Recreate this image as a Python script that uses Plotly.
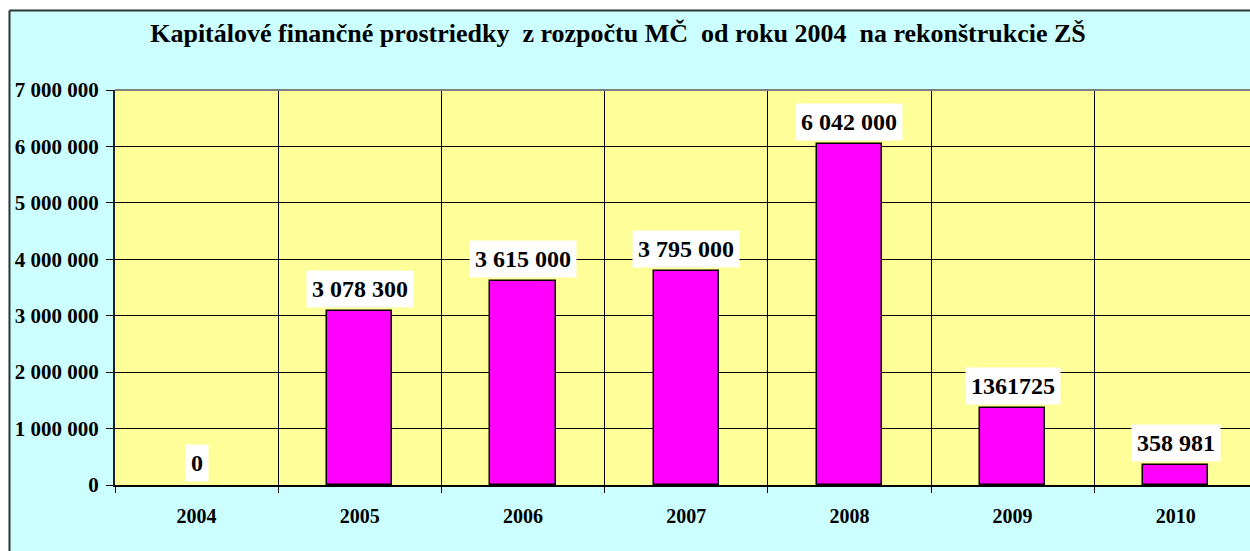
import plotly.graph_objects as go

# Capital funds from the district budget for school reconstructions
years = ["2004", "2005", "2006", "2007", "2008", "2009", "2010"]
amounts = [0, 3078300, 3615000, 3795000, 6042000, 1361725, 358981]
amount_labels = ["0", "3 078 300", "3 615 000", "3 795 000", "6 042 000", "1361725", "358 981"]
y_tick_values = [0, 1000000, 2000000, 3000000, 4000000, 5000000, 6000000, 7000000]
y_tick_labels = ["0", "1 000 000", "2 000 000", "3 000 000", "4 000 000",
                 "5 000 000", "6 000 000", "7 000 000"]
title_text = "Kapitálové finančné prostriedky  z rozpočtu MČ  od roku 2004  na rekonštrukcie ZŠ"

W, H = 1250, 551
PLOT_LEFT, PLOT_TOP, PLOT_BOTTOM = 115, 90, 485
CAT_W = 163.2
FONT = "Liberation Serif"

fig = go.Figure()
fig.add_trace(go.Bar(
    x=years,
    y=amounts,
    width=0.4,
    marker=dict(color="#FF00FF",
                line=dict(color="#000000",
                          width=[0 if v == 0 else 1.5 for v in amounts])),
    hoverinfo="skip",
))

# value labels in white boxes above each bar (category index as x position)
for i, (v, lab) in enumerate(zip(amounts, amount_labels)):
    fig.add_annotation(
        x=i, y=v, text=f"<b>{lab}</b>", showarrow=False,
        xref="x", yref="y", yanchor="bottom", yshift=3,
        font=dict(family=FONT, size=24, color="#000000"),
        bgcolor="#FFFFFF", borderpad=5,
    )

x_end = -0.5 + (W - PLOT_LEFT) / CAT_W

fig.update_layout(
    width=W, height=H,
    margin=dict(l=0, r=0, t=0, b=0),
    paper_bgcolor="#CCFFFF",
    plot_bgcolor="#FFFF99",
    showlegend=False,
    bargap=0,
    font=dict(family=FONT),
    title=dict(
        text=f"<b>{title_text}</b>",
        x=618 / W, xanchor="center",
        y=1 - 33 / H, yanchor="middle",
        font=dict(family=FONT, size=26, color="#000000"),
    ),
    xaxis=dict(
        type="category",
        domain=[PLOT_LEFT / W, 1.0],
        range=[-0.5, x_end],
        tickmode="array",
        tickvals=years,
        ticktext=[f"<b>{y}</b>" for y in years],
        tickson="boundaries",
        ticks="outside", ticklen=6, tickcolor="#000000", tickwidth=1,
        showgrid=True, gridcolor="#000000", gridwidth=1,
        showline=True, linecolor="#000000", linewidth=1.5,
        tickfont=dict(family=FONT, size=20, color="#000000"),
        ticklabelstandoff=12,
        automargin=False,
        fixedrange=True,
        zeroline=False,
    ),
    yaxis=dict(
        domain=[(H - PLOT_BOTTOM) / H, (H - PLOT_TOP) / H],
        range=[0, 7000000],
        tickmode="array",
        tickvals=y_tick_values,
        ticktext=[f"<b>{t}</b>" for t in y_tick_labels],
        ticks="outside", ticklen=7, tickcolor="#000000", tickwidth=1,
        showgrid=True, gridcolor="#000000", gridwidth=1,
        showline=True, linecolor="#222222", linewidth=2,
        tickfont=dict(family=FONT, size=21, color="#000000"),
        ticklabelstandoff=3,
        automargin=False,
        fixedrange=True,
        zeroline=False,
    ),
)

# Chart frame: white strip above and left, dark border line, grey top edge of plot area
fig.add_shape(type="rect", xref="paper", yref="paper",
              x0=0, x1=1, y0=1 - 9.5 / H, y1=1.01,
              fillcolor="#FFFFFF", line=dict(width=0), layer="below")
fig.add_shape(type="rect", xref="paper", yref="paper",
              x0=-0.01, x1=8.5 / W, y0=-0.01, y1=1.01,
              fillcolor="#FFFFFF", line=dict(width=0), layer="below")
fig.add_shape(type="line", xref="paper", yref="paper",
              x0=9.5 / W, x1=1.01, y0=1 - 10.5 / H, y1=1 - 10.5 / H,
              line=dict(color="#333333", width=2))
fig.add_shape(type="line", xref="paper", yref="paper",
              x0=9.5 / W, x1=9.5 / W, y0=-0.01, y1=1 - 10.5 / H,
              line=dict(color="#333333", width=2))
fig.add_shape(type="line", xref="paper", yref="paper",
              x0=PLOT_LEFT / W, x1=1.01, y0=(H - PLOT_TOP) / H, y1=(H - PLOT_TOP) / H,
              line=dict(color="#808080", width=2))

fig.write_html("out.html")
